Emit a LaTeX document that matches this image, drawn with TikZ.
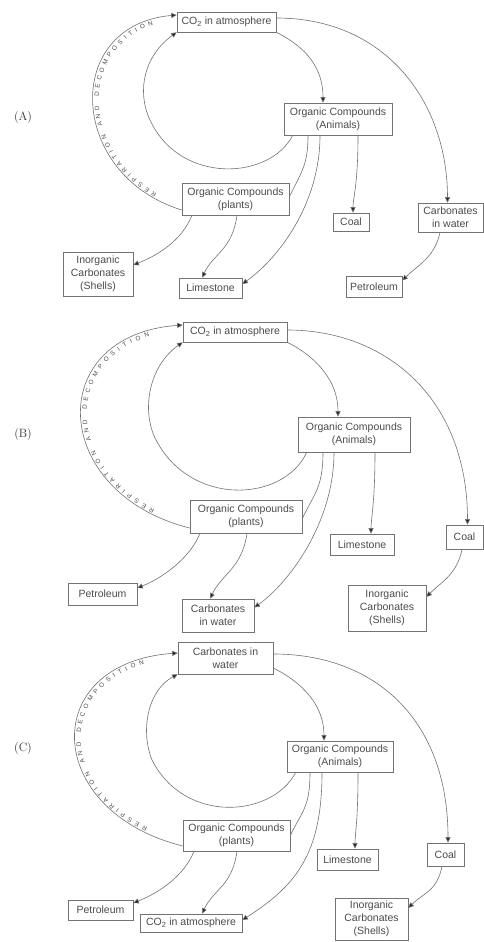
\documentclass[tikz,border=0pt]{standalone}
\usepackage{fontspec}
\newfontfamily\boxfont{Liberation Sans}
\usetikzlibrary{arrows.meta,decorations.text}
\newcommand\curvefont{\boxfont\fontsize{6.3}{7}\selectfont}
\tikzset{
  box/.style={draw=black!55, line width=0.6pt, fill=white,
    font=\boxfont\fontsize{10.5}{13}\selectfont, text=black!70,
    align=center, inner sep=1pt},
  link/.style={draw=black!55, line width=0.6pt},
  arr/.style={link, -{Triangle[length=5.5pt,width=5pt,fill=black!85]}},
  lab/.style={font=\fontsize{12}{14}\selectfont, text=black!80},
  curvelab/.style 2 args={decorate, decoration={text along path,
    text={|\curvefont|RESPIRATION AND DECOMPOSITION},
    text color=black!70,
    text align={left indent=#1, right indent=#2, fit to path}, raise=-5.5pt}},
}
\begin{document}
\begin{tikzpicture}[x=1pt,y=-1pt]
\useasboundingbox (0,0) rectangle (484,942);
\fill[white] (0,0) rectangle (484,942);

% ---------- labels ----------
\node[lab] (la) at (23,118) {(A)};
\node[lab] (lb) at (23,435) {(B)};
\node[lab] (lc) at (23,748) {(C)};

% ---------- Panel A ----------
\node[box, minimum width=99pt, minimum height=20pt] (coA) at (226.5,22) {CO\textsubscript{2} in atmosphere};
\node[box, minimum width=108pt, minimum height=32pt] (anA) at (338,119) {Organic Compounds\\(Animals)};
\node[box, minimum width=107pt, minimum height=32pt] (plA) at (235.5,199) {Organic Compounds\\(plants)};
\node[box, minimum width=36pt, minimum height=18pt] (coalA) at (351,222) {Coal};
\node[box, minimum width=65pt, minimum height=29pt] (cwA) at (450.5,217.5) {Carbonates\\in water};
\node[box, minimum width=70pt, minimum height=44pt] (icA) at (98,274) {Inorganic\\Carbonates\\(Shells)};
\node[box, minimum width=63pt, minimum height=20pt] (lsA) at (210.5,288) {Limestone};
\node[box, minimum width=56pt, minimum height=21pt] (ptA) at (374,286.5) {Petroleum};

\draw[arr] (coA.south east) .. controls +(30,15) and +(0,-35) .. ([xshift=-15pt]anA.north);
\draw[arr] ([yshift=4pt]coA.east) .. controls +(110,0) and +(0,-100) .. ([xshift=-3pt]cwA.north);
\draw[arr] ([xshift=9pt]anA.south west) .. controls (270,180) and (180,185) .. (150,120) .. controls (136,90) and (145,55) .. (coA.south west);
\draw[arr] ([yshift=-11pt]plA.west) .. controls +(-114,-35) and +(-115,10) .. ([yshift=7pt]coA.west);
\path[curvelab={30pt}{26pt}] ([yshift=-11pt]plA.west) .. controls +(-114,-35) and +(-115,10) .. ([yshift=7pt]coA.west);
\draw[link] ([xshift=-30pt]anA.south) .. controls +(0,30) and +(12,-25) .. ([yshift=2pt]plA.east);
\draw[arr] ([xshift=-18pt]anA.south) .. controls +(0,70) and +(35,-25) .. ([yshift=4pt]lsA.east);
\draw[arr] ([xshift=20pt]anA.south) .. controls +(0,50) and +(0,-15) .. ([xshift=2pt]coalA.north);
\draw[arr] ([xshift=-43.5pt]plA.south) .. controls +(-10,25) and +(25,-10) .. ([yshift=9pt]icA.east);
\draw[arr] ([xshift=1.5pt]plA.south) .. controls +(-5,35) and +(12,-25) .. ([xshift=-8.5pt]lsA.north);
\draw[arr] ([xshift=-10.5pt]cwA.south) .. controls +(-5,25) and +(15,-15) .. ([yshift=6pt]ptA.east);

% ---------- Panel B ----------
\node[box, minimum width=104pt, minimum height=20pt] (coB) at (235,332) {CO\textsubscript{2} in atmosphere};
\node[box, minimum width=112pt, minimum height=35pt] (anB) at (354,434.5) {Organic Compounds\\(Animals)};
\node[box, minimum width=112pt, minimum height=33pt] (plB) at (246,516.5) {Organic Compounds\\(plants)};
\node[box, minimum width=64pt, minimum height=21pt] (lsB) at (362,544.5) {Limestone};
\node[box, minimum width=37pt, minimum height=24pt] (coalB) at (464.5,537) {Coal};
\node[box, minimum width=69pt, minimum height=22pt] (ptB) at (102.5,594) {Petroleum};
\node[box, minimum width=72pt, minimum height=33pt] (cwB) at (218,615.5) {Carbonates\\in water};
\node[box, minimum width=78pt, minimum height=46pt] (icB) at (387,608) {Inorganic\\Carbonates\\(Shells)};

\draw[arr] (coB.south east) .. controls +(30,15) and +(0,-35) .. ([xshift=-16pt]anB.north);
\draw[arr] ([yshift=2pt]coB.east) .. controls +(100,0) and +(0,-125) .. ([xshift=3pt]coalB.north);
\draw[arr] ([xshift=9pt]anB.south west) .. controls (284,502) and (190,508) .. (155,438) .. controls (141,408) and (150,365) .. (coB.south west);
\draw[arr] ([yshift=-11.5pt]plB.west) .. controls +(-140,-35) and +(-140,10) .. ([yshift=7pt]coB.west);
\path[curvelab={40pt}{36pt}] ([yshift=-11.5pt]plB.west) .. controls +(-140,-35) and +(-140,10) .. ([yshift=7pt]coB.west);
\draw[link] ([xshift=-31pt]anB.south) .. controls +(0,35) and +(12,-25) .. ([yshift=-2pt]plB.east);
\draw[arr] ([xshift=-20pt]anB.south) .. controls +(0,70) and +(35,-25) .. ([yshift=8pt]cwB.east);
\draw[arr] ([xshift=21pt]anB.south) .. controls +(0,50) and +(0,-15) .. ([xshift=9pt]lsB.north);
\draw[arr] ([xshift=-46pt]plB.south) .. controls +(-10,25) and +(25,-10) .. ([yshift=6pt]ptB.east);
\draw[arr] ([xshift=1pt]plB.south) .. controls +(-5,35) and +(12,-25) .. ([xshift=-8pt]cwB.north);
\draw[arr] ([xshift=-2.5pt]coalB.south) .. controls +(-5,25) and +(15,-15) .. ([yshift=11pt]icB.east);

% ---------- Panel C ----------
\node[box, minimum width=95pt, minimum height=32pt] (cwC) at (225.5,658) {Carbonates in\\water};
\node[box, minimum width=106pt, minimum height=31pt] (anC) at (340,756.5) {Organic Compounds\\(Animals)};
\node[box, minimum width=107pt, minimum height=31pt] (plC) at (236.5,835.5) {Organic Compounds\\(plants)};
\node[box, minimum width=61pt, minimum height=21pt] (lsC) at (347.5,859.5) {Limestone};
\node[box, minimum width=37pt, minimum height=23pt] (coalC) at (445.5,854.5) {Coal};
\node[box, minimum width=65pt, minimum height=20pt] (ptC) at (100.5,910) {Petroleum};
\node[box, minimum width=102pt, minimum height=18pt] (coC) at (191,923) {CO\textsubscript{2} in atmosphere};
\node[box, minimum width=73pt, minimum height=42pt] (icC) at (371.5,919) {Inorganic\\Carbonates\\(Shells)};

\draw[arr] ([yshift=-10pt]cwC.east) .. controls +(30,15) and +(0,-35) .. ([xshift=-16pt]anC.north);
\draw[arr] ([yshift=4pt]cwC.east) .. controls +(100,0) and +(0,-125) .. ([xshift=2.5pt]coalC.north);
\draw[arr] ([xshift=9pt]anC.south west) .. controls (273,817) and (185,825) .. (152,760) .. controls (140,730) and (148,690) .. (cwC.south west);
\draw[arr] ([yshift=-10.5pt]plC.west) .. controls +(-140,-35) and +(-140,10) .. ([yshift=5pt]cwC.west);
\path[curvelab={40pt}{36pt}] ([yshift=-10.5pt]plC.west) .. controls +(-140,-35) and +(-140,10) .. ([yshift=5pt]cwC.west);
\draw[link] ([xshift=-30pt]anC.south) .. controls +(0,35) and +(12,-25) .. (plC.east);
\draw[arr] ([xshift=-18pt]anC.south) .. controls +(0,80) and +(55,-35) .. ([yshift=3pt]coC.east);
\draw[arr] ([xshift=18pt]anC.south) .. controls +(0,50) and +(0,-15) .. ([xshift=7.5pt]lsC.north);
\draw[arr] ([xshift=-42.5pt]plC.south) .. controls +(-10,25) and +(25,-10) .. ([yshift=7pt]ptC.east);
\draw[arr] ([xshift=0.5pt]plC.south) .. controls +(-5,35) and +(12,-25) .. ([xshift=11pt]coC.north);
\draw[arr] ([xshift=-3.5pt]coalC.south) .. controls +(-5,25) and +(15,-15) .. ([yshift=11pt]icC.east);
\end{tikzpicture}
\end{document}
